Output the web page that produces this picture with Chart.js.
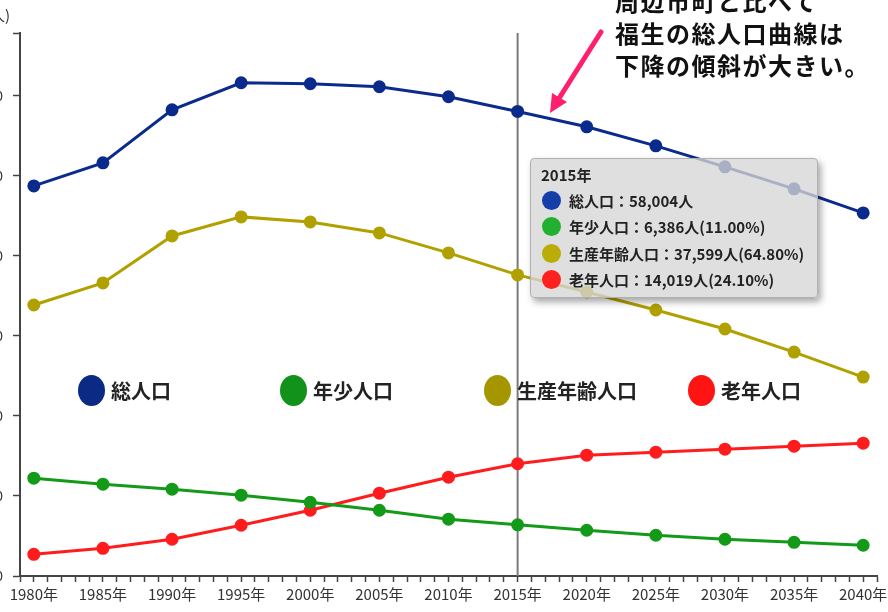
<!DOCTYPE html>
<html><head><meta charset="utf-8">
<script src="https://cdn.jsdelivr.net/npm/chart.js@4/dist/chart.umd.min.js"></script>
<style>
html,body{margin:0;padding:0;background:#fff;}
#stage{position:relative;width:888px;height:612px;overflow:hidden;background:#fff;font-family:"Noto Sans CJK JP","Noto Sans",sans-serif;}
#wrap{position:absolute;left:-60px;top:0;width:948px;height:612px;}
#unit{position:absolute;left:-40px;top:4px;width:50px;text-align:right;font-size:15px;color:#333;}
#legend .item{position:absolute;top:374px;height:32px;display:flex;align-items:center;font-weight:bold;font-size:20px;color:#222;white-space:nowrap;}
#legend .dot{width:27px;height:31px;border-radius:50%;margin-right:6px;}
#tip{position:absolute;left:530px;top:158px;width:288px;height:140px;background:rgba(214,214,214,0.78);border:1px solid #b0b0b0;border-radius:4px;box-shadow:3px 4px 7px rgba(0,0,0,0.35);box-sizing:border-box;color:#222;}
#tip .title{position:absolute;left:10px;top:6px;font-size:15px;font-weight:bold;line-height:20px;}
#tip .row{position:absolute;left:11px;height:20px;display:flex;align-items:center;font-size:15px;font-weight:bold;white-space:nowrap;}
#tip .dot{width:19px;height:19px;border-radius:50%;margin-right:8px;}
#note{position:absolute;left:615px;top:-15px;font-size:24px;line-height:32px;font-weight:bold;letter-spacing:1.5px;color:#111;white-space:nowrap;}
#arrow{position:absolute;left:0;top:0;width:888px;height:612px;pointer-events:none;}
</style></head><body>
<div id="stage">
  <div id="wrap"><canvas id="c" width="948" height="612"></canvas></div>
  <div id="unit">(人)</div>
  <div id="legend"></div>
  <div id="tip"></div>
  <svg id="arrow" viewBox="0 0 888 612">
    <line x1="601" y1="32" x2="558" y2="100" stroke="#ff1f6e" stroke-width="5" stroke-linecap="round"/>
    <polygon points="550,113 567,102 552,93" fill="#ff1f6e"/>
  </svg>
  <div id="note">周辺市町と比べて<br>福生の総人口曲線は<br>下降の傾斜が大きい。</div>
</div>
<script>
// ---- data ----
const years = [1980,1985,1990,1995,2000,2005,2010,2015,2020,2025,2030,2035,2040];
const totalPop   = [48710,51590,58210,61590,61460,61090,59840,58004,56090,53710,51090,48340,45340];
const youngPop   = [12210,11460,10840,10090,9210,8210,7090,6386,5710,5090,4590,4210,3840];
const workingPop = [33840,36590,42460,44840,44210,42840,40340,37599,35460,33210,30840,27960,24840];
const elderlyPop = [2710,3460,4590,6340,8210,10340,12340,14019,15090,15460,15840,16210,16590];
const seriesNames = ['総人口','年少人口','生産年齢人口','老年人口'];
const seriesColors = ['#0a2b8c','#139a18','#b0a000','#ff1c1c'];
const markYear = 2015;
const markShares = ['', '11.00%', '64.80%', '24.10%'];
const yTicks = [0,10000,20000,30000,40000,50000,60000];
const yMax = 67800;
const xMin = 1979, xMax = 2041;
const unitSuffix = '年';
const personSuffix = '人';

const seriesValues = [totalPop, youngPop, workingPop, elderlyPop];
const FONT = '"Noto Sans CJK JP","Noto Sans",sans-serif';

const markLine = {
  id:'markLine',
  beforeDatasetsDraw(chart){
    const {ctx, chartArea, scales} = chart;
    const x = scales.x.getPixelForValue(markYear);
    ctx.save();
    ctx.strokeStyle = '#7a7a7a';
    ctx.lineWidth = 2;
    ctx.beginPath();
    ctx.moveTo(x, chartArea.top);
    ctx.lineTo(x, chartArea.bottom);
    ctx.stroke();
    ctx.restore();
  }
};

new Chart(document.getElementById('c'), {
  type:'line',
  data:{
    datasets: seriesValues.map((vals,i)=>({
      label: seriesNames[i],
      data: years.map((y,j)=>({x:y, y:vals[j]})),
      borderColor: seriesColors[i],
      backgroundColor: seriesColors[i],
      pointBackgroundColor: seriesColors[i],
      pointBorderColor: seriesColors[i],
      pointRadius: 5,
      borderWidth: 3,
      tension: 0,
      fill:false
    }))
  },
  options:{
    responsive:false,
    animation:false,
    layout:{padding:{top:33,right:11,left:0,bottom:0}},
    plugins:{legend:{display:false},tooltip:{enabled:false}},
    scales:{
      x:{
        type:'linear', min:xMin, max:xMax,
        afterBuildTicks:(s)=>{ const t=[]; for(let v=xMin; v<=xMax; v++) t.push({value:v}); s.ticks=t; },
        ticks:{autoSkip:false, maxRotation:0, minRotation:0, padding:3, color:'#333',
               font:{size:15, family:FONT},
               callback:(v)=> years.includes(v) ? v + unitSuffix : ''},
        grid:{drawOnChartArea:false, tickLength:6, color:'#444', tickWidth:1.5},
        border:{color:'#444', width:2},
        afterFit:(s)=>{ s.height = 36; }
      },
      y:{
        min:0, max:yMax,
        afterBuildTicks:(s)=>{ s.ticks = yTicks.concat([yMax]).map(v=>({value:v})); },
        ticks:{padding:10, color:'#333', font:{size:14, family:FONT},
               callback:(v)=> v===yMax ? '' : v.toLocaleString()},
        grid:{drawOnChartArea:false, tickLength:7, color:'#444', tickWidth:1.5},
        border:{color:'#444', width:2},
        afterFit:(s)=>{ s.width = 80; }
      }
    }
  },
  plugins:[markLine]
});

// ---- legend (HTML overlay) ----
const legendLefts = [78, 280, 484, 688];
const legendColors = ['#0a2a84','#12921a','#a59600','#ff1414'];
const legend = document.getElementById('legend');
seriesNames.forEach((n,i)=>{
  const d = document.createElement('div');
  d.className='item';
  d.style.left = legendLefts[i]+'px';
  d.innerHTML = '<span class="dot" style="background:'+legendColors[i]+'"></span><span>'+n+'</span>';
  legend.appendChild(d);
});

// ---- tooltip (HTML overlay) ----
const tip = document.getElementById('tip');
const mi = years.indexOf(markYear);
const tipColors = ['#163ea8','#22b030','#bcac08','#ff2020'];
let html = '<div class="title">'+markYear+unitSuffix+'</div>';
seriesNames.forEach((n,i)=>{
  const v = seriesValues[i][mi].toLocaleString('en-US') + personSuffix + (markShares[i] ? '('+markShares[i]+')' : '');
  const top = 31 + i*26.6;
  html += '<div class="row" style="top:'+top+'px"><span class="dot" style="background:'+tipColors[i]+'"></span><span>'+n+'：'+v+'</span></div>';
});
tip.innerHTML = html;
</script>
</body></html>
